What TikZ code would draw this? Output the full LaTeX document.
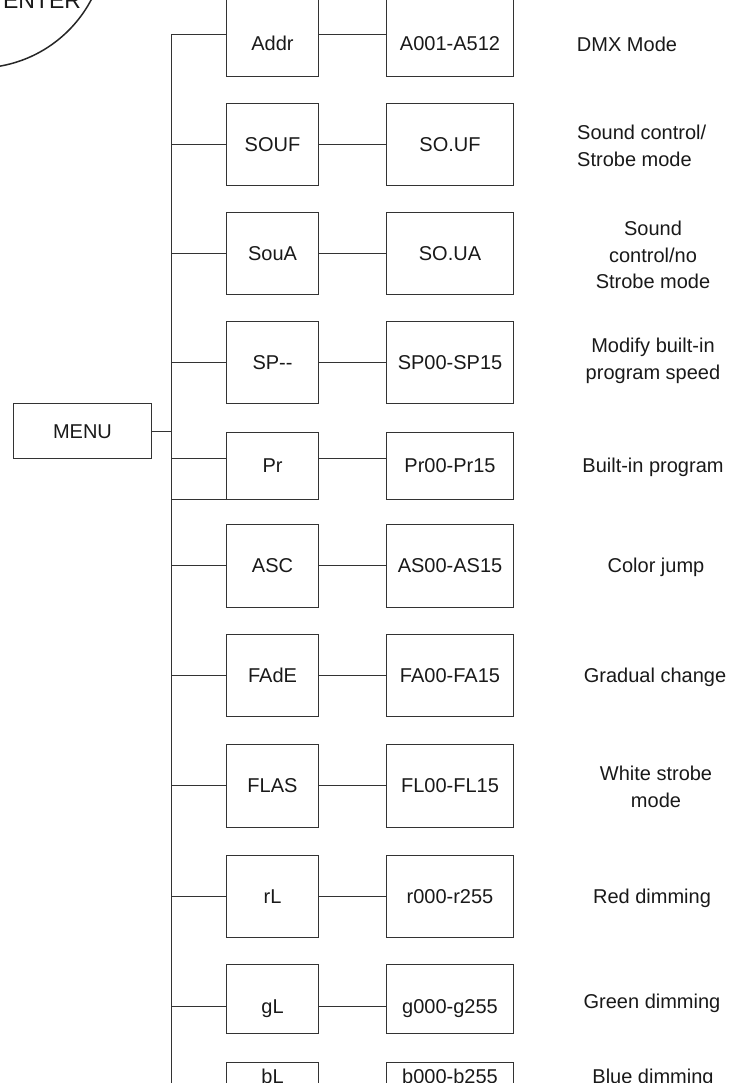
\documentclass[tikz,border=0pt]{standalone}
\usepackage{fontspec}
\setmainfont{Liberation Sans}
\newcommand\shiftv[2]{\raisebox{#1}[\height][\depth]{#2}}
\begin{document}
\begin{tikzpicture}[x=1pt,y=-1pt,
  line/.style={draw=black!80, line width=0.9pt},
  box/.style={draw=black!80, line width=0.9pt, rectangle, inner sep=0pt,
    text height=14.5pt, text depth=0pt, text=black!90,
    font=\fontsize{20}{24}\selectfont, minimum height=82pt},
  boxa/.style={box, minimum width=92pt},
  boxb/.style={box, minimum width=126.5pt},
  desc/.style={align=center, inner sep=0pt, text=black!90,
    font=\fontsize{20}{26.5}\selectfont},
]
\useasboundingbox (0,0) rectangle (732,1083);
\clip (0,0) rectangle (732,1083);

% ENTER circle (mostly outside the picture)
\node[circle, draw=black!85, line width=1.5pt, minimum size=256pt, inner sep=0pt] (entercircle) at (-22,-60) {};
\node[anchor=base, inner sep=0pt, text=black!90, font=\fontsize{23}{26}\selectfont] (entertext) at (42,9) {ENTER};

% MENU
\node[box, minimum width=138.4pt, minimum height=55.4pt] (menu) at (82.5,431) {MENU};

% trunk coordinates
\coordinate (ttop) at (171,34.5);
\coordinate (tbot) at (171,1090);

% column 1 boxes
\node[boxa, minimum height=83pt] (addr) at (272.5,34.5) {\shiftv{-8.5pt}{Addr}};
\node[boxa] (souf) at (272.5,144) {SOUF};
\node[boxa] (soua) at (272.5,253.5) {SouA};
\node[boxa] (sp)   at (272.5,362.5) {SP{-}{-}};
\node[boxa, minimum height=67pt] (pr) at (272.5,465.5) {Pr};
\node[boxa, minimum height=83pt] (asc)  at (272.5,565.5) {ASC};
\node[boxa] (fade) at (272.5,675) {FAdE};
\node[boxa, minimum height=83pt] (flas) at (272.5,785.5) {FLAS};
\node[boxa] (rl)   at (272.5,896) {rL};
\node[boxa, minimum height=69pt] (gl) at (272.5,998.5) {\shiftv{-7.5pt}{gL}};
\node[boxa] (bl)   at (272.5,1103) {\shiftv{27pt}{bL}};

% column 2 boxes
\node[boxb, minimum height=83pt] (addrv) at (450,34.5) {\shiftv{-8.5pt}{A001-A512}};
\node[boxb] (soufv) at (450,144) {SO.UF};
\node[boxb] (souav) at (450,253.5) {SO.UA};
\node[boxb] (spv)   at (450,362.5) {SP00-SP15};
\node[boxb, minimum height=67pt] (prv) at (450,465.5) {Pr00-Pr15};
\node[boxb, minimum height=83pt] (ascv)  at (450,565.5) {AS00-AS15};
\node[boxb] (fadev) at (450,675) {FA00-FA15};
\node[boxb, minimum height=83pt] (flasv) at (450,785.5) {FL00-FL15};
\node[boxb] (rlv)   at (450,896) {r000-r255};
\node[boxb, minimum height=69pt] (glv) at (450,998.5) {\shiftv{-7.5pt}{g000-g255}};
\node[boxb] (blv)   at (450,1103) {\shiftv{27pt}{b000-b255}};

% trunk
\draw[line] (ttop) -- (tbot);
\draw[line] (ttop |- pr.south) -- (pr.south west);
\draw[line] (menu.east) -- (menu.east -| ttop);

% branches from trunk
\foreach \n in {addr,souf,soua,sp,asc,fade,flas,rl}{
  \draw[line] (\n.west -| ttop) -- (\n.west);
  \draw[line] (\n.east) -- (\n v.west);
}
\draw[line] ([yshift=7.5pt]pr.west -| ttop) -- ([yshift=7.5pt]pr.west);
\draw[line] ([yshift=7.5pt]pr.east) -- ([yshift=7.5pt]prv.west);
\draw[line] ([yshift=-7.5pt]gl.west -| ttop) -- ([yshift=-7.5pt]gl.west);
\draw[line] ([yshift=-7.5pt]gl.east) -- ([yshift=-7.5pt]glv.west);

% descriptions
\node[desc] (d1) at (627,44) {DMX Mode};
\node[desc, align=left, anchor=west] (d2) at (577,146) {Sound control/\\Strobe mode};
\node[desc] (d3) at (653,255) {Sound\\control/no\\Strobe mode};
\node[desc] (d4) at (653,361) {Modify built-in\\program speed};
\node[desc] (d5) at (653,467) {Built-in program};
\node[desc] (d6) at (656,567) {Color jump};
\node[desc] (d7) at (655,677) {Gradual change};
\node[desc] (d8) at (656,787) {White strobe\\mode};
\node[desc] (d9) at (652,898) {Red dimming};
\node[desc] (d10) at (652,1003) {Green dimming};
\node[desc] (d11) at (653,1078) {Blue dimming};
\end{tikzpicture}
\end{document}
